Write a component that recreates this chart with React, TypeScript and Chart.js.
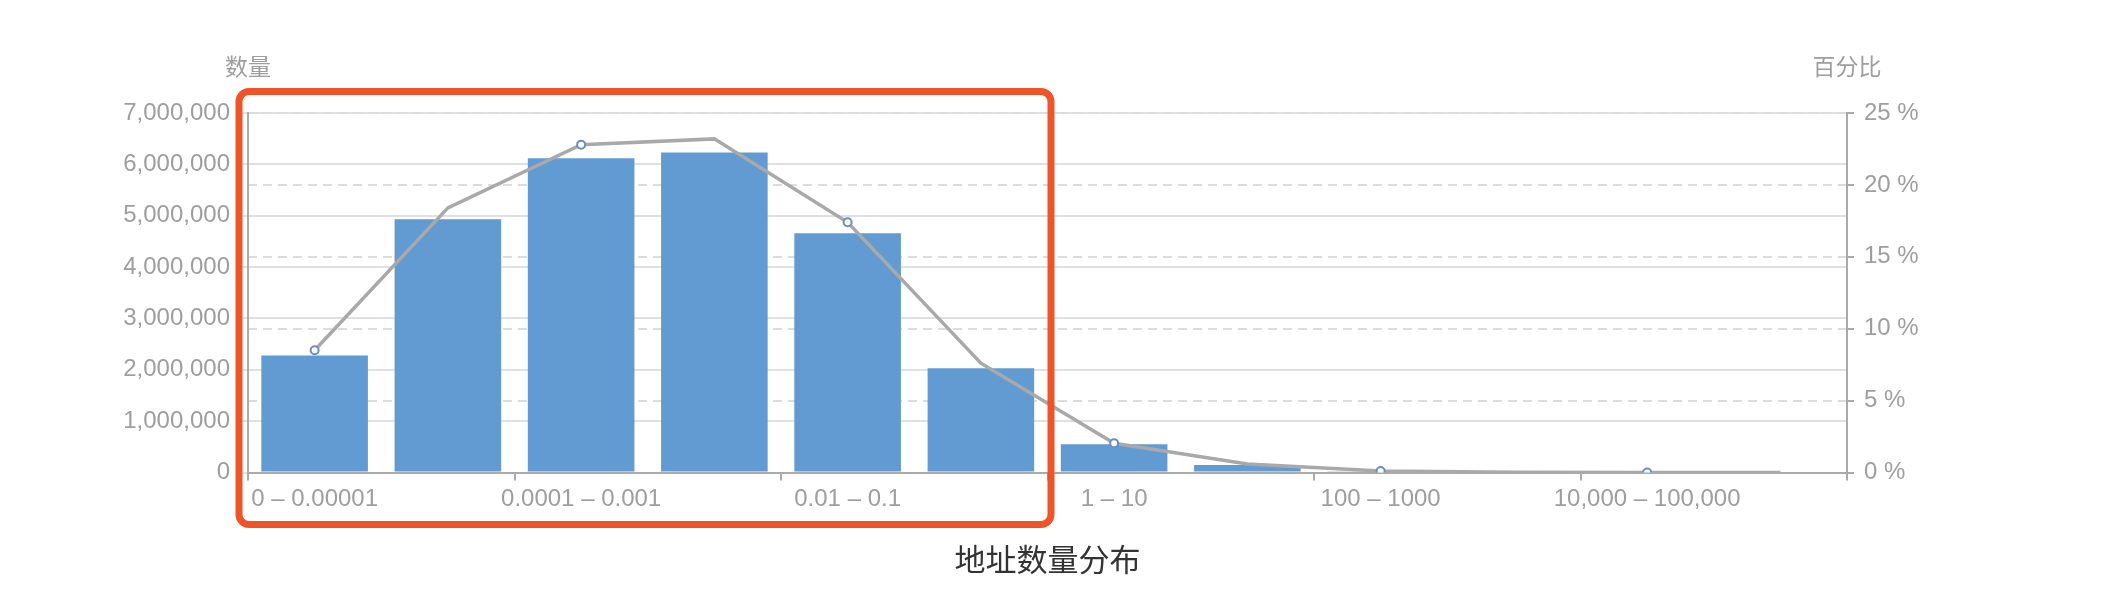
import { useEffect, useRef } from "react";
import { Chart, registerables } from "chart.js";

Chart.register(...registerables);

// address-count buckets (BTC balance ranges)
const categories = [
  "0 – 0.00001",
  "0.00001 – 0.0001",
  "0.0001 – 0.001",
  "0.001 – 0.01",
  "0.01 – 0.1",
  "0.1 – 1",
  "1 – 10",
  "10 – 100",
  "100 – 1000",
  "1000 – 10,000",
  "10,000 – 100,000",
  "100,000 – 1,000,000",
];
const counts = [
  2280000, 4930000, 6120000, 6230000, 4660000, 2030000, 550000, 146000, 25000,
  4000, 0, 0,
];
const percents = [8.5, 18.4, 22.8, 23.2, 17.4, 7.6, 2.03, 0.59, 0.1, 0.02, 0.005, 0.001];

const leftName = "数量";
const rightName = "百分比";
const titleText = "地址数量分布";

const FONT = '"Liberation Sans", "Noto Sans CJK SC", sans-serif';
const GREY = "#9e9e9e";

// axis names, bottom title and the red highlight box
const decorPlugin = {
  id: "decor",
  afterDraw(chart: any) {
    const { ctx, chartArea } = chart;
    const x = chart.scales.x;
    ctx.save();
    ctx.fillStyle = GREY;
    ctx.font = `23px ${FONT}`;
    ctx.textAlign = "center";
    ctx.textBaseline = "middle";
    ctx.fillText(leftName, chartArea.left, 69);
    ctx.fillText(rightName, chartArea.right, 69);

    ctx.fillStyle = "#333";
    ctx.font = `31px ${FONT}`;
    ctx.fillText(titleText, (chartArea.left + chartArea.right) / 2, 562);

    const half = (x.getPixelForValue(1) - x.getPixelForValue(0)) / 2;
    const left = chartArea.left - 9;
    const right = x.getPixelForValue(6) - half + 3.5;
    const top = chartArea.top - 21.5;
    const bottom = chartArea.bottom + 52;
    ctx.strokeStyle = "#EE5428";
    ctx.lineWidth = 7;
    ctx.beginPath();
    ctx.roundRect(left, top, right - left, bottom - top, 10);
    ctx.stroke();
    ctx.restore();
  },
};

function App() {
  const chartRef = useRef<HTMLCanvasElement | null>(null);

  useEffect(() => {
    if (!chartRef.current) return;
    const ctx = chartRef.current.getContext("2d");
    if (!ctx) return;

    const chart = new Chart(ctx, {
      type: "bar",
      data: {
        labels: categories,
        datasets: [
          {
            type: "line",
            label: rightName,
            data: percents,
            yAxisID: "y1",
            borderColor: "#a9a9a9",
            borderWidth: 3.5,
            pointRadius: (c: any) => (c.dataIndex % 2 === 0 ? 4 : 0),
            pointBackgroundColor: "#fff",
            pointBorderColor: "#6b8fc2",
            pointBorderWidth: 2,
            tension: 0,
            order: 0,
          },
          {
            type: "bar",
            label: leftName,
            data: counts,
            yAxisID: "y",
            backgroundColor: "#629bd2",
            categoryPercentage: 0.8,
            barPercentage: 1,
            order: 1,
          },
        ],
      },
      options: {
        animation: false,
        responsive: false,
        devicePixelRatio: 1,
        layout: { padding: { top: 113, left: 0, right: 0, bottom: 0 } },
        plugins: {
          legend: { display: false },
          tooltip: { enabled: false },
        },
        scales: {
          x: {
            afterFit: (s: any) => {
              s.height = 139.5;
            },
            grid: {
              offset: true,
              drawOnChartArea: false,
              tickLength: 8,
              lineWidth: 2,
              color: (c: any) =>
                c.index === undefined || c.index % 2 === 0 ? "#aaa" : "rgba(0,0,0,0)",
            },
            border: { color: "#aaa", width: 2 },
            ticks: {
              autoSkip: false,
              maxRotation: 0,
              padding: 4,
              color: GREY,
              font: { size: 24, family: FONT },
              callback: (_v: any, i: number) => (i % 2 === 0 ? categories[i] : ""),
            },
          },
          y: {
            position: "left",
            min: 0,
            max: 7000000,
            afterFit: (s: any) => {
              s.width = 248;
            },
            grid: { color: "#e0e0e0", lineWidth: 2, tickLength: 7 },
            border: { color: "#aaa", width: 2 },
            ticks: {
              stepSize: 1000000,
              padding: 11,
              color: GREY,
              font: { size: 24, family: FONT },
              callback: (v: any) => Number(v).toLocaleString("en-US"),
            },
          },
          y1: {
            position: "right",
            min: 0,
            max: 25,
            afterFit: (s: any) => {
              s.width = 265;
            },
            grid: {
              color: "#dcdcdc",
              lineWidth: 2,
              tickLength: 7,
              tickColor: "#aaa",
              tickBorderDash: [],
            },
            border: { color: "#aaa", width: 2, dash: [9, 6] },
            ticks: {
              stepSize: 5,
              padding: 10,
              color: GREY,
              font: { size: 24, family: FONT },
              callback: (v: any) => `${v} %`,
            },
          },
        },
      },
      plugins: [decorPlugin],
    } as any);

    return () => {
      chart.destroy();
    };
  }, []);

  return (
    <div style={{ position: "absolute", left: 0, top: 0, width: 2112, height: 612 }}>
      <canvas ref={chartRef} width="2112" height="612"></canvas>
    </div>
  );
}

export default App;
